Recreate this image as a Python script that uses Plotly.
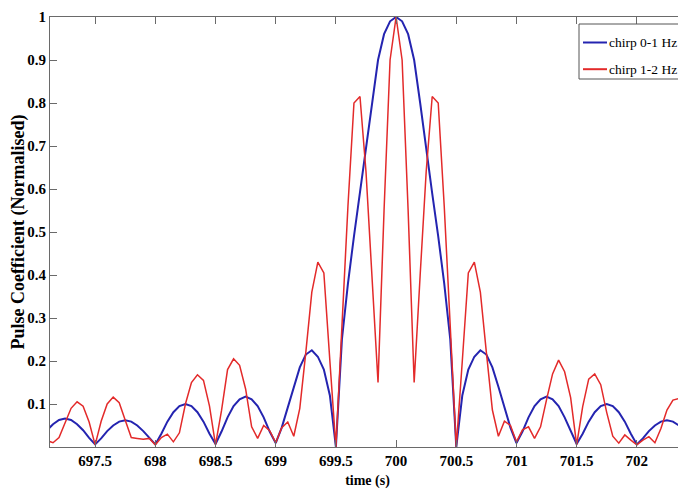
import plotly.graph_objects as go

# Sample times (s)
time_s = [
    697.10, 697.15, 697.20, 697.25, 697.30, 697.35, 697.40, 697.45, 697.50, 697.55,
    697.60, 697.65, 697.70, 697.75, 697.80, 697.85, 697.90, 697.95, 698.00, 698.05,
    698.10, 698.15, 698.20, 698.25, 698.30, 698.35, 698.40, 698.45, 698.50, 698.55,
    698.60, 698.65, 698.70, 698.75, 698.80, 698.85, 698.90, 698.95, 699.00, 699.05,
    699.10, 699.15, 699.20, 699.25, 699.30, 699.35, 699.40, 699.45, 699.50, 699.55,
    699.60, 699.65, 699.70, 699.75, 699.80, 699.85, 699.90, 699.95, 700.00, 700.05,
    700.10, 700.15, 700.20, 700.25, 700.30, 700.35, 700.40, 700.45, 700.50, 700.55,
    700.60, 700.65, 700.70, 700.75, 700.80, 700.85, 700.90, 700.95, 701.00, 701.05,
    701.10, 701.15, 701.20, 701.25, 701.30, 701.35, 701.40, 701.45, 701.50, 701.55,
    701.60, 701.65, 701.70, 701.75, 701.80, 701.85, 701.90, 701.95, 702.00, 702.05,
    702.10, 702.15, 702.20, 702.25, 702.30, 702.35, 702.40,
]

# chirp 0-1 Hz (blue), normalised pulse coefficient
chirp_0_1 = [
    0.039, 0.053, 0.063, 0.066, 0.063, 0.053, 0.039, 0.021, 0.006, 0.020,
    0.037, 0.050, 0.059, 0.062, 0.059, 0.050, 0.037, 0.021, 0.006, 0.031,
    0.059, 0.081, 0.095, 0.100, 0.095, 0.081, 0.059, 0.031, 0.007, 0.036,
    0.069, 0.095, 0.111, 0.117, 0.111, 0.095, 0.069, 0.036, 0.009, 0.045,
    0.090, 0.140, 0.185, 0.215, 0.225, 0.210, 0.180, 0.120, 0.000, 0.250,
    0.380, 0.490, 0.590, 0.690, 0.800, 0.900, 0.960, 0.990, 1.000, 0.990,
    0.960, 0.900, 0.800, 0.690, 0.590, 0.490, 0.380, 0.250, 0.000, 0.120,
    0.180, 0.210, 0.225, 0.215, 0.185, 0.140, 0.090, 0.045, 0.009, 0.036,
    0.069, 0.095, 0.111, 0.117, 0.111, 0.095, 0.069, 0.036, 0.007, 0.031,
    0.059, 0.081, 0.095, 0.100, 0.095, 0.081, 0.059, 0.031, 0.006, 0.020,
    0.037, 0.050, 0.059, 0.062, 0.059, 0.050, 0.034,
]

# chirp 1-2 Hz (red), normalised pulse coefficient
chirp_1_2 = [
    0.015, 0.010, 0.022, 0.058, 0.090, 0.105, 0.095, 0.058, 0.005, 0.060,
    0.100, 0.116, 0.103, 0.062, 0.022, 0.020, 0.018, 0.020, 0.005, 0.022,
    0.030, 0.012, 0.033, 0.100, 0.150, 0.168, 0.155, 0.095, 0.005, 0.085,
    0.180, 0.205, 0.190, 0.135, 0.047, 0.020, 0.050, 0.038, 0.010, 0.045,
    0.058, 0.025, 0.090, 0.220, 0.360, 0.430, 0.405, 0.200, 0.000, 0.280,
    0.560, 0.800, 0.815, 0.640, 0.400, 0.150, 0.550, 0.900, 1.000, 0.900,
    0.550, 0.150, 0.400, 0.640, 0.815, 0.800, 0.560, 0.280, 0.000, 0.200,
    0.405, 0.430, 0.360, 0.220, 0.086, 0.025, 0.060, 0.050, 0.012, 0.040,
    0.047, 0.020, 0.047, 0.110, 0.170, 0.202, 0.175, 0.115, 0.005, 0.094,
    0.158, 0.170, 0.145, 0.080, 0.025, 0.009, 0.028, 0.016, 0.005, 0.016,
    0.024, 0.010, 0.043, 0.086, 0.109, 0.113, 0.100,
]

series_names = ["chirp 0-1 Hz", "chirp 1-2 Hz"]
series_colors = ["#2424b0", "#e32a2a"]

x_ticks = [697.5, 698, 698.5, 699, 699.5, 700, 700.5, 701, 701.5, 702]
x_tick_labels = ["697.5", "698", "698.5", "699", "699.5", "700", "700.5", "701", "701.5", "702"]
y_ticks = [0.1, 0.2, 0.3, 0.4, 0.5, 0.6, 0.7, 0.8, 0.9, 1.0]
y_tick_labels = ["0.1", "0.2", "0.3", "0.4", "0.5", "0.6", "0.7", "0.8", "0.9", "1"]

FONT = "Liberation Serif"
AXIS_COLOR = "#6a6a6a"

# The page body has an 8px margin, so figure coords = window coords - 8.
OFF = 8
WIN_W, WIN_H = 686, 489
FIG_W, FIG_H = WIN_W - OFF, WIN_H - OFF
# plot-area edges in window pixels
L, R, T, B = 50, 685, 17, 447
def px_x(p):
    return (p - L) / (R - L)
def px_y(p):
    return (B - p) / (B - T)

fig = go.Figure()
fig.add_trace(go.Scatter(
    x=time_s, y=chirp_0_1, mode="lines", name=series_names[0],
    line=dict(color=series_colors[0], width=2), showlegend=False,
))
fig.add_trace(go.Scatter(
    x=time_s, y=chirp_1_2, mode="lines", name=series_names[1],
    line=dict(color=series_colors[1], width=1.5), showlegend=False,
))

# boxed legend in the top-right corner, partly cut by the edge as in the original
shapes = [dict(type="rect", xref="paper", yref="paper",
               x0=px_x(579), x1=px_x(700), y0=px_y(79), y1=px_y(24),
               line=dict(color="#555555", width=1), fillcolor="white", layer="above")]
annotations = []
for i, (nm, col) in enumerate(zip(series_names, series_colors)):
    yy = 42.5 + i * 26.7
    shapes.append(dict(type="line", xref="paper", yref="paper",
                       x0=px_x(583), x1=px_x(607), y0=px_y(yy), y1=px_y(yy),
                       line=dict(color=col, width=2), layer="above"))
    annotations.append(dict(xref="paper", yref="paper", x=px_x(607), y=px_y(yy),
                            xanchor="left", yanchor="middle", showarrow=False,
                            text=nm, font=dict(family=FONT, size=13.5, color="black")))

fig.update_layout(
    width=FIG_W, height=FIG_H,
    margin=dict(l=L - OFF, r=FIG_W - (R - OFF), t=T - OFF, b=FIG_H - (B - OFF)),
    paper_bgcolor="white", plot_bgcolor="white",
    font=dict(family=FONT, color="black"),
    showlegend=False,
    shapes=shapes,
    annotations=annotations,
    xaxis=dict(
        range=[697.125, 702.4],
        tickmode="array", tickvals=x_ticks, ticktext=x_tick_labels,
        ticks="inside", ticklen=7, tickcolor=AXIS_COLOR,
        showline=True, linecolor=AXIS_COLOR, linewidth=1, mirror="ticks",
        showgrid=False, zeroline=False,
        tickfont=dict(family=FONT, size=15, color="black", weight="bold"),
        ticklabelstandoff=0,
        title=dict(text="time (s)", font=dict(family=FONT, size=14, color="black", weight="bold"), standoff=9),
        automargin=False,
    ),
    yaxis=dict(
        range=[0.0, 1.0],
        tickmode="array", tickvals=y_ticks, ticktext=y_tick_labels,
        ticks="inside", ticklen=7, tickcolor=AXIS_COLOR,
        showline=True, linecolor=AXIS_COLOR, linewidth=1, mirror="ticks",
        showgrid=False, zeroline=False,
        tickfont=dict(family=FONT, size=15, color="black", weight="bold"),
        title=dict(text="Pulse Coefficient (Normalised)", font=dict(family=FONT, size=18, color="black", weight="bold"), standoff=2),
        automargin=False,
    ),
)

fig.write_html("out.html")
